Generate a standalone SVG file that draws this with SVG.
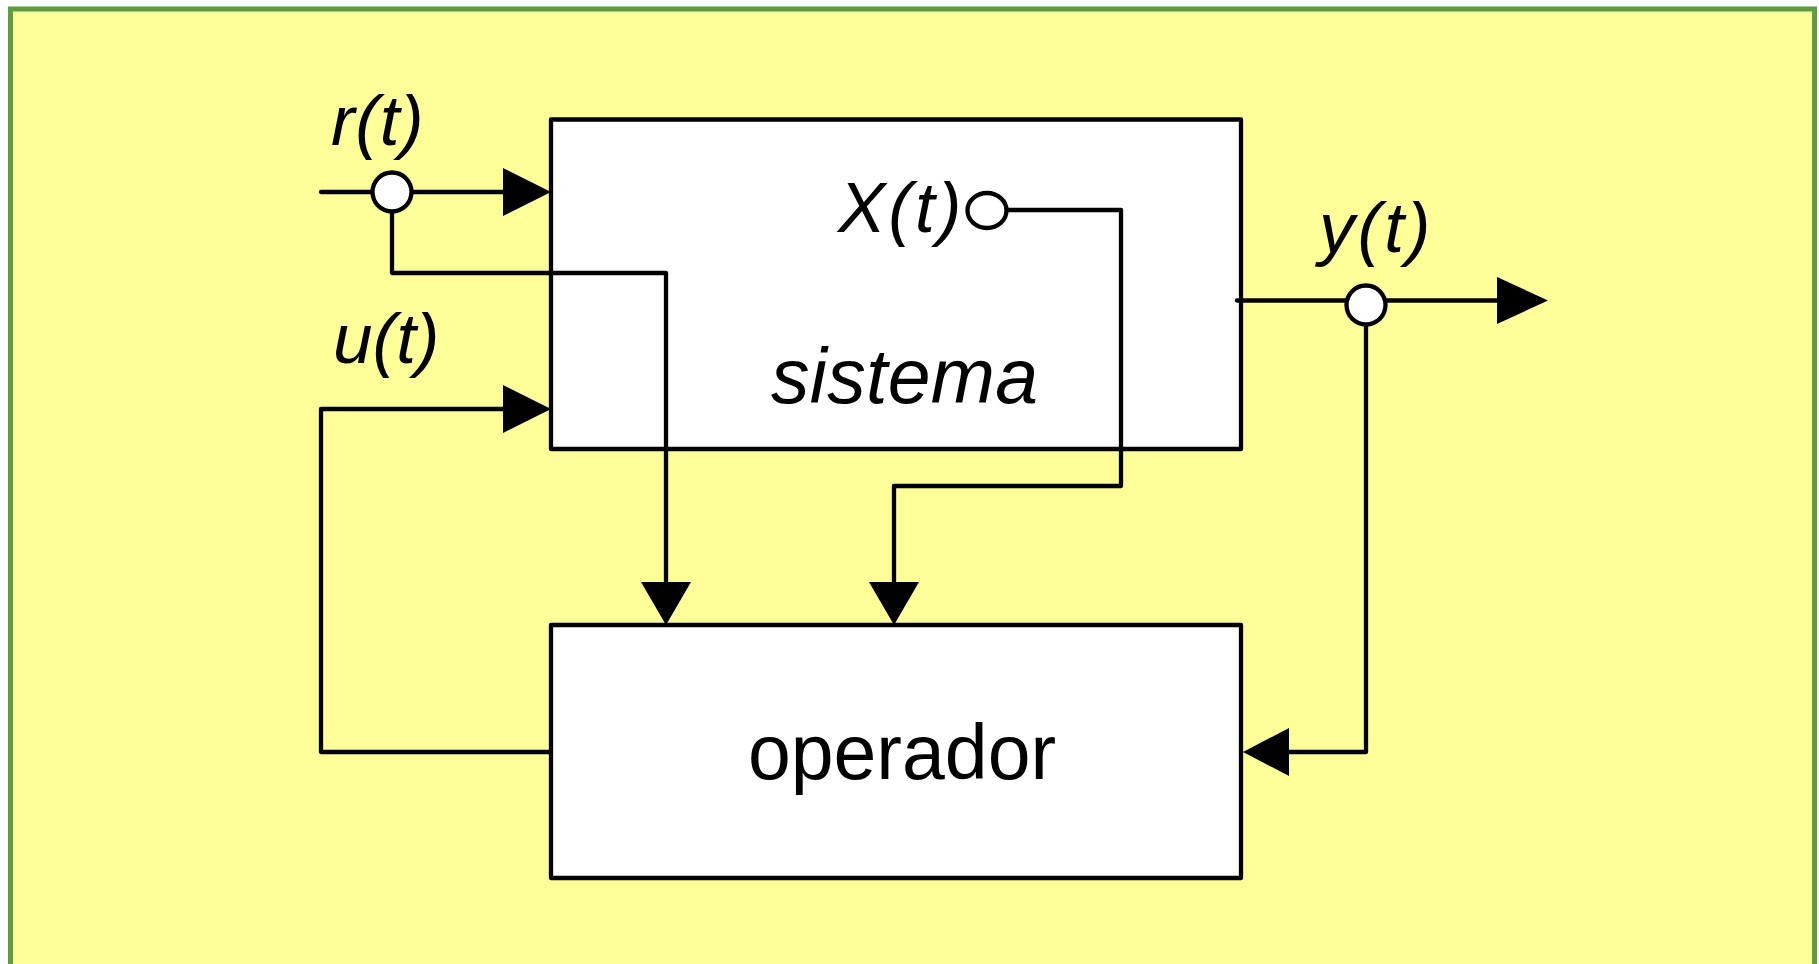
<svg xmlns="http://www.w3.org/2000/svg" width="1819" height="964" viewBox="0 0 1819 964">
<defs>
<style>
.ln{fill:none;stroke:#000;stroke-width:4.3;stroke-linecap:round;stroke-linejoin:round}
.box{fill:#fff;stroke:#000;stroke-width:4.3;stroke-linejoin:round}
.node{fill:#fff;stroke:#000;stroke-width:4.3}
.ah{fill:#000;stroke:none}
.lbl{font-family:"Liberation Sans",Arial,sans-serif;font-style:italic;font-size:71px;fill:#000}
.big{font-family:"Liberation Sans",Arial,sans-serif;font-size:77px;fill:#000}
</style>
</defs>
<rect x="10.5" y="9" width="1804" height="980" fill="#ffff99" stroke="#5f9b40" stroke-width="5"/>
<g id="sistema">
<rect class="box" x="551" y="119.5" width="690" height="329.5"/>
<text class="big" x="771" y="403" font-style="italic" letter-spacing="0.3">sistema</text>
</g>
<g id="operador">
<rect class="box" x="551" y="625" width="690" height="253"/>
<text class="big" x="902" y="779" text-anchor="middle">operador</text>
</g>
<g id="connectors">
<path class="ln" d="M321 192 H372"/>
<path class="ln" d="M412 192 H505"/>
<polygon class="ah" points="503,168 551,192 503,216"/>
<path class="ln" d="M392 212 V273 H666 V584"/>
<polygon class="ah" points="641,582 691,582 666,625"/>
<path class="ln" d="M1006 210 H1121 V486 H894 V584"/>
<polygon class="ah" points="869,582 919,582 894,625"/>
<path class="ln" d="M1237 300.5 H1346"/>
<path class="ln" d="M1386 300.5 H1499"/>
<polygon class="ah" points="1497,277 1548,300.5 1497,324"/>
<path class="ln" d="M1366 325 V752 H1288"/>
<polygon class="ah" points="1289,728 1243,752 1289,776"/>
<path class="ln" d="M551 752 H321 V409 H505"/>
<polygon class="ah" points="503,385 551,409 503,433"/>
</g>
<g id="node-r">
<circle class="node" cx="392" cy="192" r="19.5"/>
<text class="lbl" x="331" y="145" letter-spacing="0.7">r(t)</text>
</g>
<g id="node-x">
<ellipse class="node" cx="987" cy="210.5" rx="19.5" ry="17.5"/>
<text class="lbl" x="838" y="232" letter-spacing="3">X(t)</text>
</g>
<g id="node-y">
<circle class="node" cx="1366" cy="305" r="19.5"/>
<text class="lbl" x="1319" y="252" letter-spacing="3">y(t)</text>
</g>
<g id="node-u">
<text class="lbl" x="333" y="363">u(t)</text>
</g>
</svg>
